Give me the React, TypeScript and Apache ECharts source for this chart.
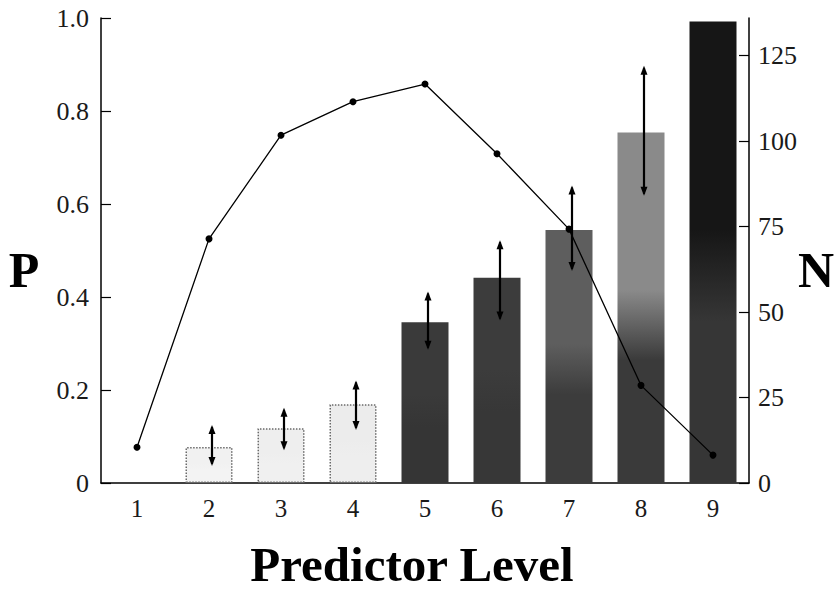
import React, { useEffect, useRef } from "react";
import * as echarts from "echarts";

// ---- data ----
const levels = ["1", "2", "3", "4", "5", "6", "7", "8", "9"];
const pValues = [0.077, 0.525, 0.748, 0.82, 0.858, 0.708, 0.546, 0.21, 0.06];
const nValues: (number | null)[] = [null, 10.5, 16, 23, 47, 60, 74, 102.5, 135];
const nLow: (number | null)[] = [null, 5, 9.6, 15.5, 39, 47.5, 62, 84, null];
const nHigh: (number | null)[] = [null, 17, 22, 30, 56, 71, 87, 122, null];
const pTicks = [0, 0.2, 0.4, 0.6, 0.8, 1.0];
const nTicks = [0, 25, 50, 75, 100, 125];
const pMax = 1.0;
const nMax = 136;

// ---- styles ----
const barTopColors = ["#ffffff", "#f1f1f1", "#eeeeee", "#ececec", "#3a3a3a", "#3c3c3c", "#5e5e5e", "#8a8a8a", "#161616"];
const barBottomColors = ["#ffffff", "#f3f3f3", "#f0f0f0", "#eeeeee", "#353535", "#373737", "#3c3c3c", "#3a3a3a", "#363636"];
const barIsLight = [true, true, true, true, false, false, false, false, false];
const FONT = "'Liberation Serif', 'DejaVu Serif', serif";

export default function App() {
  const ref = useRef<HTMLDivElement>(null);

  useEffect(() => {
    if (!ref.current) return;
    const chart = echarts.init(ref.current, undefined, { renderer: "svg" });

    const barData = nValues.map((v, i) => ({
      value: v,
      itemStyle: {
        color: new echarts.graphic.LinearGradient(0, 0, 0, 1, [
          { offset: 0, color: barTopColors[i] },
          { offset: 0.45, color: barTopColors[i] },
          { offset: 0.65, color: barBottomColors[i] },
          { offset: 1, color: barBottomColors[i] },
        ]),
        borderColor: barIsLight[i] ? "#6a6a6a" : "transparent",
        borderWidth: barIsLight[i] ? 1.5 : 0,
        borderType: "dotted",
      },
    }));

    const errData = levels
      .map((_, i) => [i, nLow[i], nHigh[i]])
      .filter((d) => d[1] != null && d[2] != null);

    chart.setOption({
      animation: false,
      backgroundColor: "#ffffff",
      textStyle: { fontFamily: FONT },
      grid: { left: 101, right: 86, top: 18, bottom: 107, containLabel: false },
      xAxis: {
        type: "category",
        data: levels,
        boundaryGap: true,
        axisLine: { show: true, lineStyle: { color: "#000", width: 1.5 } },
        axisTick: { show: false },
        axisLabel: { color: "#1a1a1a", fontSize: 25, fontFamily: FONT, margin: 13 },
        splitLine: { show: false },
      },
      yAxis: [
        {
          type: "value",
          min: 0,
          max: pMax,
          interval: 0.2,
          position: "left",
          axisLine: { show: true, lineStyle: { color: "#000", width: 1.5 } },
          axisTick: { show: true, inside: true, length: 10, lineStyle: { color: "#000", width: 1.2 }, customValues: pTicks },
          axisLabel: {
            color: "#1a1a1a",
            fontSize: 26,
            fontFamily: FONT,
            margin: 12,
            customValues: pTicks,
            formatter: (v: number) => (v === 0 ? "0" : v.toFixed(1)),
          },
          splitLine: { show: false },
        },
        {
          type: "value",
          min: 0,
          max: nMax,
          interval: 25,
          position: "right",
          axisLine: { show: true, lineStyle: { color: "#000", width: 1.5 } },
          axisTick: { show: true, inside: true, length: 10, lineStyle: { color: "#000", width: 1.2 }, customValues: nTicks },
          axisLabel: {
            color: "#1a1a1a",
            fontSize: 26,
            fontFamily: FONT,
            margin: 9,
            customValues: nTicks,
          },
          splitLine: { show: false },
        },
      ],
      series: [
        {
          type: "bar",
          yAxisIndex: 1,
          data: barData,
          barWidth: 47,
          z: 1,
        },
        {
          type: "custom",
          yAxisIndex: 1,
          data: errData,
          z: 3,
          renderItem: (params: any, api: any) => {
            const x = api.value(0);
            const lo = api.coord([x, api.value(1)]);
            const hi = api.coord([x, api.value(2)]);
            const cx = lo[0] + 3;
            const hw = 3.5;
            const hh = 9;
            return {
              type: "group",
              children: [
                {
                  type: "line",
                  shape: { x1: cx, y1: lo[1] - 2, x2: cx, y2: hi[1] + 2 },
                  style: { stroke: "#000", lineWidth: 2.2 },
                },
                {
                  type: "polygon",
                  shape: { points: [[cx, hi[1]], [cx - hw, hi[1] + hh], [cx + hw, hi[1] + hh]] },
                  style: { fill: "#000" },
                },
                {
                  type: "polygon",
                  shape: { points: [[cx, lo[1]], [cx - hw, lo[1] - hh], [cx + hw, lo[1] - hh]] },
                  style: { fill: "#000" },
                },
              ],
            };
          },
        },
        {
          type: "line",
          yAxisIndex: 0,
          data: pValues,
          symbol: "circle",
          symbolSize: 7,
          lineStyle: { color: "#000", width: 1.3 },
          itemStyle: { color: "#000" },
          z: 4,
        },
      ],
      graphic: [
        {
          type: "text",
          x: 412,
          y: 564,
          style: {
            text: "Predictor Level",
            font: `bold 49px ${FONT}`,
            fill: "#000",
            align: "center",
            verticalAlign: "middle",
          },
        },
        {
          type: "text",
          x: 24,
          y: 270,
          style: {
            text: "P",
            font: `bold 50px ${FONT}`,
            fill: "#000",
            align: "center",
            verticalAlign: "middle",
          },
        },
        {
          type: "text",
          x: 816,
          y: 270,
          style: {
            text: "N",
            font: `bold 50px ${FONT}`,
            fill: "#000",
            align: "center",
            verticalAlign: "middle",
          },
        },
      ],
    });

    return () => chart.dispose();
  }, []);

  return (
    <div
      ref={ref}
      style={{ position: "fixed", left: 0, top: 0, width: 835, height: 590, background: "#fff" }}
    />
  );
}
